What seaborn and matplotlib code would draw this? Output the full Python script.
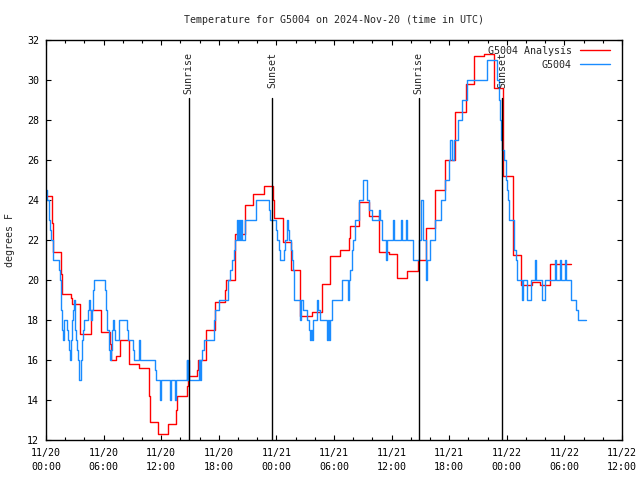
import matplotlib
matplotlib.use("Agg")
import matplotlib.pyplot as plt
import numpy as np
import pandas as pd
import seaborn as sns

# ── Data (hours since 2024-11-20 00:00 UTC, degrees F) ─────────────────────
anl_hours = [0.0, 0.66, 0.76, 1.6, 1.7, 2.64, 2.74, 3.57, 4.65, 5.7, 6.63, 6.73,
             7.26, 7.67, 8.6, 9.65, 10.7, 10.8, 11.7, 12.7, 13.5, 13.6, 14.65,
             14.75, 15.7, 15.8, 16.7, 17.6, 18.6, 18.7, 19.65, 20.7, 21.6, 22.7,
             23.6, 23.75, 24.65, 25.5, 26.5, 27.7, 28.7, 29.6, 30.6, 31.6, 31.7,
             32.6, 33.6, 34.65, 35.7, 36.1, 36.6, 37.6, 38.7, 39.6, 40.55, 41.6,
             42.6, 43.7, 44.6, 45.65, 46.7, 47.6, 48.6, 49.5, 50.6, 51.5, 52.5,
             54.65]
anl_temp = [24.2, 22.85, 21.4, 20.3, 19.3, 19.1, 18.8, 17.3, 18.5, 17.4, 16.8, 16.0,
            16.2, 17.0, 15.8, 15.6, 14.2, 12.9, 12.3, 12.8, 13.5, 14.2, 14.7,
            15.2, 15.5, 16.0, 17.5, 18.9, 19.5, 20.0, 22.3, 23.75, 24.3, 24.7,
            24.0, 23.1, 21.9, 20.5, 18.2, 18.4, 19.8, 21.2, 21.5, 22.1, 22.7,
            23.9, 23.2, 21.4, 21.3, 21.3, 20.1, 20.45, 21.0, 22.6, 24.5, 26.0,
            28.4, 29.8, 31.2, 31.3, 29.6, 25.2, 21.25, 19.75, 19.9, 19.75, 20.8,
            20.8]

obs_hours = [0.0, 0.14, 0.28, 0.38, 0.49, 0.76, 1.39, 1.49, 1.6, 1.7, 1.81, 1.91,
             2.22, 2.33, 2.43, 2.53, 2.64, 2.74, 2.85, 2.95, 3.06, 3.16, 3.26,
             3.37, 3.47, 3.68, 3.78, 3.89, 3.99, 4.41, 4.51, 4.62, 4.72, 4.83,
             4.93, 5.03, 6.18, 6.28, 6.39, 6.6, 6.7, 6.8, 6.91, 7.01, 7.12, 7.22,
             7.57, 8.47, 8.58, 9.1, 9.2, 9.72, 9.83, 11.39, 11.49, 11.91, 12.01,
             12.95, 13.05, 13.47, 13.58, 14.65, 14.72, 14.78, 14.85, 14.93, 15.97,
             16.04, 16.1, 16.2, 16.3, 16.5, 17.54, 17.64, 17.99, 18.93, 19.17,
             19.34, 19.55, 19.72, 19.93, 20.04, 20.14, 20.25, 20.35, 20.45, 20.77,
             21.91, 23.27, 23.37, 23.93, 24.03, 24.24, 24.34, 24.76, 24.86, 25.07,
             25.18, 25.28, 25.49, 25.6, 25.7, 25.8, 26.42, 26.53, 26.74, 27.15,
             27.36, 27.47, 27.57, 27.67, 27.78, 28.19, 28.3, 28.54, 29.24, 29.34,
             29.45, 29.55, 29.76, 30.8, 31.42, 31.53, 31.67, 31.84, 32.01, 32.22,
             32.64, 33.06, 33.47, 33.68, 33.92, 34.72, 34.83, 34.97, 35.42, 35.55,
             36.18, 36.28, 36.94, 37.05, 37.46, 37.56, 38.26, 38.9, 39.1, 39.25,
             39.55, 39.65, 39.95, 40.55, 41.1, 41.6, 41.95, 42.1, 42.25, 42.5,
             42.95, 43.3, 43.9, 45.97, 46.95, 47.15, 47.3, 47.4, 47.55, 47.75,
             47.9, 48.0, 48.16, 48.27, 48.7, 48.8, 48.96, 49.1, 49.55, 49.72,
             50.07, 50.49, 50.94, 51.04, 51.63, 51.98, 53.02, 53.13, 53.54, 53.64,
             54.06, 54.16, 54.65, 55.17, 55.45, 56.25]
obs_temp = [24.5, 24.0, 23.0, 22.5, 22.0, 21.0, 20.5, 20.0, 18.5, 17.5, 17.0, 18.0,
            17.5, 17.0, 16.5, 16.0, 17.0, 18.0, 18.5, 19.0, 17.5, 17.0, 16.5,
            16.0, 15.0, 16.0, 17.0, 17.5, 18.0, 18.5, 19.0, 18.5, 18.0, 18.5,
            19.5, 20.0, 19.5, 18.5, 17.5, 16.5, 16.0, 16.5, 17.5, 18.0, 17.5, 17.0,
            18.0, 17.5, 17.0, 16.5, 16.0, 17.0, 16.0, 15.5, 15.0, 14.0, 15.0,
            14.0, 15.0, 14.0, 15.0, 16.0, 15.0, 16.0, 15.5, 15.0, 16.0,
            15.0, 16.0, 16.5, 16.5, 17.0, 18.0, 18.5, 19.0, 20.0, 20.5,
            21.0, 21.5, 22.0, 23.0, 22.0, 23.0, 22.0, 23.0, 22.0, 23.0,
            24.0, 23.5, 23.0, 22.5, 22.0, 21.5, 21.0, 21.5, 22.0, 23.0,
            22.5, 22.0, 21.5, 21.0, 20.5, 19.0, 18.0, 19.0, 18.5, 18.0,
            17.5, 17.0, 17.5, 17.0, 18.0, 19.0, 18.5, 18.0, 17.0, 18.0,
            17.0, 18.0, 19.0, 20.0, 19.0, 20.0, 20.5, 21.5, 22.0, 23.0,
            24.0, 25.0, 24.0, 23.5, 23.0, 23.5, 23.0, 22.0, 21.0, 22.0,
            23.0, 22.0, 23.0, 22.0, 23.0, 22.0, 21.0, 22.0, 24.0, 22.0,
            20.0, 21.0, 22.0, 23.0, 24.0, 25.0, 26.0, 27.0, 26.0, 27.0,
            28.0, 29.0, 30.0, 31.0, 30.0, 29.0, 28.0, 27.0, 26.5, 26.0,
            25.0, 24.5, 24.0, 23.0, 22.0, 21.5, 21.0, 20.0, 19.0, 20.0,
            19.0, 20.0, 21.0, 20.0, 19.0, 20.0, 21.0, 20.0, 21.0, 20.0,
            21.0, 20.0, 19.0, 18.5, 18.0, 18.0]

sun_labels = ["Sunrise", "Sunset", "Sunrise", "Sunset"]
sun_hours = [14.85, 23.57, 38.82, 47.55]

tick_hours = [0, 6, 12, 18, 24, 30, 36, 42, 48, 54, 60]
tick_labels = ["11/20\n00:00", "11/20\n06:00", "11/20\n12:00", "11/20\n18:00",
               "11/21\n00:00", "11/21\n06:00", "11/21\n12:00", "11/21\n18:00",
               "11/22\n00:00", "11/22\n06:00", "11/22\n12:00"]

# ── Styling ────────────────────────────────────────────────────────────────
sns.set_style("ticks")
plt.rcParams["font.family"] = ["DejaVu Sans Mono"]
FS = 7.2

RED = "#ff0000"
BLUE = "#1a8cff"

anl = pd.DataFrame({"hours": anl_hours, "temp": anl_temp})
obs = pd.DataFrame({"hours": obs_hours, "temp": obs_temp})

fig = plt.figure(figsize=(6.4, 4.8), dpi=100)
ax = fig.add_axes([46 / 640, 40 / 480, 576 / 640, 400 / 480])

sns.lineplot(data=anl, x="hours", y="temp", ax=ax, color=RED, lw=1.0,
             drawstyle="steps-post", estimator=None, sort=False,
             label="G5004 Analysis")
sns.lineplot(data=obs, x="hours", y="temp", ax=ax, color=BLUE, lw=1.0,
             drawstyle="steps-post", estimator=None, sort=False,
             label="G5004")

for name, h in zip(sun_labels, sun_hours):
    ax.axvline(h, ymin=0, ymax=0.855, color="black", lw=1.0)
    ax.text(h, 0.97, name, transform=ax.get_xaxis_transform(),
            rotation=90, ha="center", va="top", fontsize=FS)

ax.set_xlim(0, 60)
ax.set_ylim(12, 32)
ax.set_xticks(tick_hours)
ax.set_xticklabels(tick_labels, linespacing=1.45)
ax.set_xticks(np.arange(0, 61, 2), minor=True)
ax.set_yticks(np.arange(12, 33, 2))
ax.tick_params(which="both", direction="in", top=True, right=True,
               colors="black", labelsize=FS, width=0.8)
ax.tick_params(which="major", length=3.6)
ax.tick_params(which="minor", length=2)
ax.tick_params(axis="x", pad=6)
ax.tick_params(axis="y", pad=5)
for s in ax.spines.values():
    s.set_color("black")
    s.set_linewidth(1.0)

ax.set_xlabel("")
ax.set_ylabel("")
fig.text(10 / 640, 0.5, "degrees F", rotation=90, ha="center", va="center",
         fontsize=FS)
ax.text(0.5, 1 + 20 / 400, "Temperature for G5004 on 2024-Nov-20 (time in UTC)",
        transform=ax.transAxes, ha="center", va="center", fontsize=FS)

ax.legend(loc="upper right", bbox_to_anchor=(1 - 6 / 576, 1.0), frameon=False,
          markerfirst=False, handlelength=3.0, handletextpad=0.8,
          borderaxespad=0.2, labelspacing=0.4, fontsize=FS)

fig.savefig("out.png", dpi=100)
plt.close(fig)
